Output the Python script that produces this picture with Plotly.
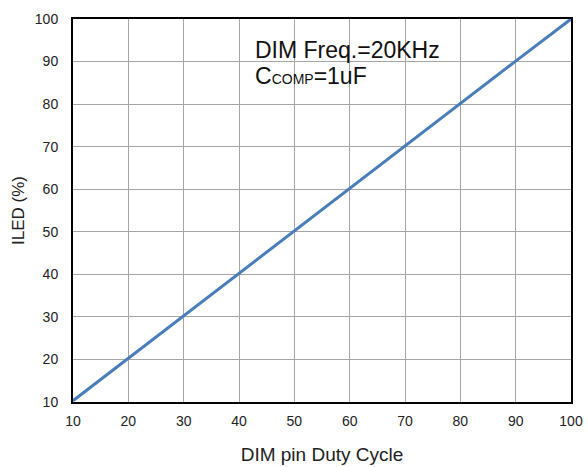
import plotly.graph_objects as go

# DIM pin duty cycle (%) vs LED current (%)
duty_cycle = [10, 20, 30, 40, 50, 60, 70, 80, 90, 100]
iled_pct = [10.3, 20.3, 30.3, 40.3, 50.3, 60.3, 70.3, 80.2, 90.1, 100]

x_ticks = [10, 20, 30, 40, 50, 60, 70, 80, 90, 100]
y_ticks = [10, 20, 30, 40, 50, 60, 70, 80, 90, 100]

font_family = "Liberation Sans, Arial, sans-serif"

fig = go.Figure()
fig.add_trace(go.Scatter(
    x=duty_cycle, y=iled_pct, mode="lines",
    line=dict(color="#4a7ebb", width=3),
    showlegend=False, hoverinfo="skip",
))

axis_common = dict(
    showgrid=True, gridcolor="#a6a6a6", gridwidth=1,
    showline=True, linecolor="black", linewidth=2, mirror=True,
    ticks="", zeroline=False, automargin=False,
    tickfont=dict(family=font_family, size=14, color="#222"),
)

fig.update_xaxes(
    range=[10, 100], tickvals=x_ticks, ticklabelstandoff=5,
    title=dict(text="DIM pin Duty Cycle", font=dict(family=font_family, size=19, color="#222"), standoff=20),
    **axis_common,
)
fig.update_yaxes(
    range=[10, 100], tickvals=y_ticks, ticklabelstandoff=10,
    title=dict(text="ILED (%)", font=dict(family=font_family, size=17, color="#222"), standoff=6),
    **axis_common,
)

fig.add_annotation(
    x=0.362, y=0.919, xref="paper", yref="paper", xanchor="left", yanchor="middle",
    text="DIM Freq.=20KHz", showarrow=False,
    font=dict(family=font_family, size=23, color="#111"),
)
fig.add_annotation(
    x=0.362, y=0.851, xref="paper", yref="paper", xanchor="left", yanchor="middle",
    text="C<span style='font-size:14px'>COMP</span>=1uF", showarrow=False,
    font=dict(family=font_family, size=23, color="#111"),
)

fig.update_layout(
    width=588, height=467,
    margin=dict(l=73, r=17, t=19, b=65),
    plot_bgcolor="white", paper_bgcolor="white",
)

fig.write_html("out.html")
